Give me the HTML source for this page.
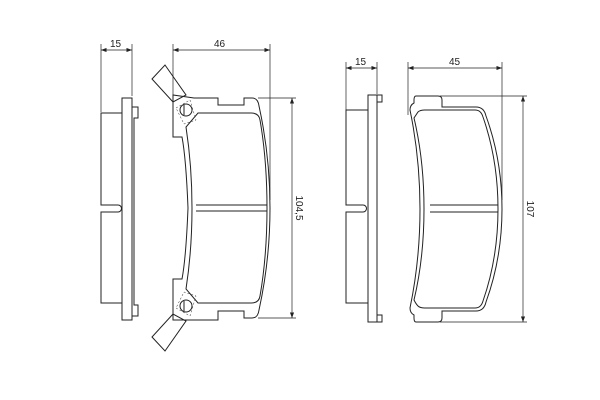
<!DOCTYPE html>
<html><head><meta charset="utf-8"><style>body{margin:0;background:#fff}svg{display:block}</style></head><body>
<svg width="600" height="400" viewBox="0 0 600 400" xmlns="http://www.w3.org/2000/svg" font-family="Liberation Sans, sans-serif" font-size="10" fill="none" stroke="#222" stroke-width="1">
<defs><marker id="a" markerWidth="8" markerHeight="6" refX="8" refY="3" orient="auto-start-reverse"><path d="M0,0 L8,3 L0,6z" fill="#222" stroke="none"/></marker></defs>
<!-- left side view -->
<g stroke-width="0.7">
<line x1="101" y1="44" x2="101" y2="112"/><line x1="132" y1="44" x2="132" y2="96"/>
<line x1="101" y1="50" x2="132" y2="50" marker-start="url(#a)" marker-end="url(#a)"/>
</g>
<text x="110" y="47" fill="#222" stroke="none">15</text>
<rect x="122" y="98" width="10" height="222"/>
<path d="M122,113 H101 V205 H118 A3.5,3.5 0 0 1 118,212 H101 V303 H122"/>
<path d="M132,107 H138 V118 H134 V305 H138 V316 H132"/>
<!-- pad 1 -->
<g stroke-width="0.7">
<line x1="173" y1="44" x2="173" y2="100"/><line x1="270" y1="44" x2="270" y2="200"/>
<line x1="173" y1="50" x2="270" y2="50" marker-start="url(#a)" marker-end="url(#a)"/>
<line x1="258" y1="98" x2="296" y2="98"/><line x1="258" y1="318" x2="296" y2="318"/>
<line x1="292" y1="98" x2="292" y2="318" marker-start="url(#a)" marker-end="url(#a)"/>
</g>
<text x="214" y="47" fill="#222" stroke="none">46</text>
<text transform="translate(296,208) rotate(90)" text-anchor="middle" fill="#222" stroke="none">104,5</text>
<path d="M173,95 V137 H182 Q186,158 188,208 Q186,258 182,279 H173 V320 H218 V311 H244 V318 H252 Q258,318 259,310 Q270,260 270,208 Q270,156 259,106 Q258,98 252,98 H244 V105 H218 V98 H194 L173,95z"/>
<path d="M198,113 H251 Q259,113 260,120 Q267,160 267,208 Q267,256 260,296 Q259,303 251,303 H198 L186,289 Q192,250 192,208 Q192,166 186,127z"/>
<line x1="196" y1="205" x2="267" y2="205"/><line x1="196" y1="211" x2="267" y2="211"/>
<path d="M152,79 L165,65 L186,95 L173,102z"/>
<path d="M152,337 L165,351 L186,321 L173,314z"/>
<circle cx="186" cy="110" r="6"/><circle cx="186" cy="306" r="6"/>
<path d="M184,105 V115" /><path d="M184,301 V311"/>
<path d="M176,108 L190,100 L196,120 L184,124z M176,308 L190,316 L196,296 L184,292z" stroke-dasharray="2,2" stroke-width="0.5"/>
<!-- right side view -->
<g stroke-width="0.7">
<line x1="346" y1="62" x2="346" y2="110"/><line x1="377" y1="62" x2="377" y2="94"/>
<line x1="346" y1="68" x2="377" y2="68" marker-start="url(#a)" marker-end="url(#a)"/>
</g>
<text x="355" y="65" fill="#222" stroke="none">15</text>
<rect x="368" y="95" width="9" height="227"/>
<path d="M368,110 H346 V205 H363 A3.5,3.5 0 0 1 363,212 H346 V303 H368"/>
<path d="M377,95 H382 V102 H377 M377,315 H382 V322 H377"/>
<!-- pad 2 -->
<g stroke-width="0.7">
<line x1="408" y1="62" x2="408" y2="115"/><line x1="502" y1="62" x2="502" y2="200"/>
<line x1="408" y1="68" x2="502" y2="68" marker-start="url(#a)" marker-end="url(#a)"/>
<line x1="440" y1="96" x2="527" y2="96"/><line x1="440" y1="322" x2="527" y2="322"/>
<line x1="523" y1="96" x2="523" y2="322" marker-start="url(#a)" marker-end="url(#a)"/>
</g>
<text x="449" y="65" fill="#222" stroke="none">45</text>
<text transform="translate(527,209) rotate(90)" text-anchor="middle" fill="#222" stroke="none">107</text>
<path d="M416,96 H438 Q442,96 442,100 V107 H476 Q484,107 486,116 Q502,160 502,209 Q502,258 486,302 Q484,311 476,311 H442 V318 Q442,322 438,322 H416 Q414,322 414,318 V315 Q410,313 410,308 Q420,260 420,209 Q420,158 410,110 Q410,105 414,103 V100 Q414,96 416,96z"/>
<path d="M418,112 Q420,110 425,110 H475 Q481,110 483,117 Q498,160 498,209 Q498,258 483,301 Q481,308 475,308 H425 Q420,308 418,306 Q416,304 414,300 Q424,258 424,209 Q424,160 414,118z"/>
<line x1="430" y1="205" x2="498" y2="205"/><line x1="430" y1="212" x2="498" y2="212"/>
</svg>
</body></html>
